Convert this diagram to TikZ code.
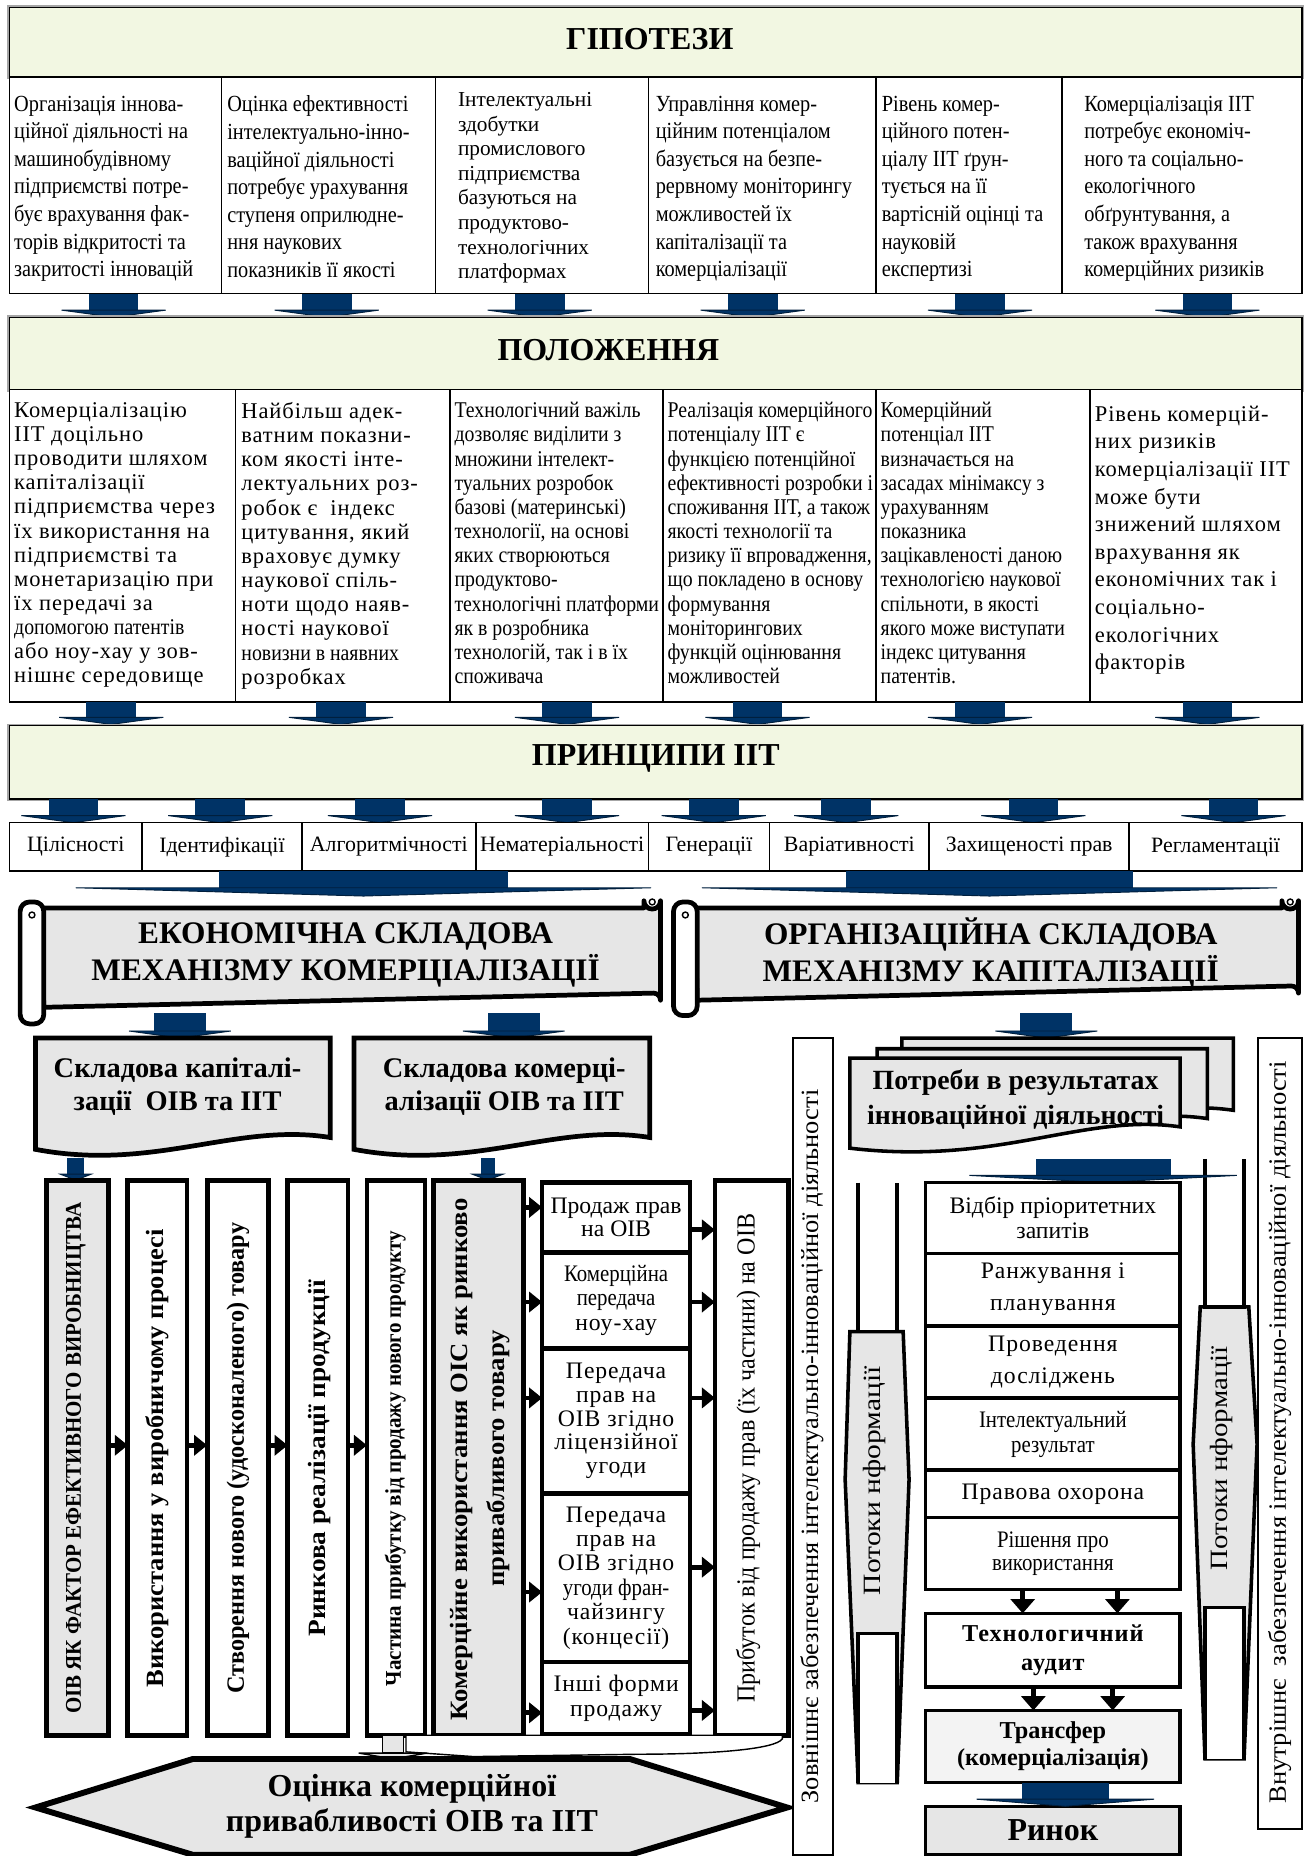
\documentclass[tikz,border=0pt]{standalone}
\usepackage{fontspec}
\usepackage{graphicx}
\setmainfont{Liberation Serif}
\newfontfamily\cnA[FakeStretch=0.88]{Liberation Serif}
\newfontfamily\cnC[FakeStretch=0.78]{Liberation Serif}
\newfontfamily\wdA[LetterSpace=4]{Liberation Serif}
\usetikzlibrary{arrows.meta}
\definecolor{hdrfill}{RGB}{242,247,226}
\definecolor{navy}{RGB}{0,51,102}
\definecolor{gfill}{RGB}{230,230,230}
\definecolor{lgfill}{RGB}{243,243,243}
\newcommand\fsz[2]{\fontsize{#1}{#2}\selectfont}
\newcommand\bx[7]{\node[#1, anchor=north west, outer sep=0pt, inner sep=0pt, minimum width={(#5)-(#3)}, minimum height={(#6)-(#4)}] (#2) at (#3,#4) {#7};}
\newcommand\barrow[6]{%
  \fill[navy] ({#1-#5},#2) rectangle ({#1+#5},#3);
  \filldraw[fill=navy, draw=navy!60!black, line width=0.8pt] ({#1-#6},#3) -- ({#1+#6},#3) -- (#1,#4) -- cycle;}
\newcommand\vtext[5]{\node[rotate=90, inner sep=0pt] (#1) at (#2,#3) {\resizebox{#4pt}{\height}{#5}};}
\begin{document}
\begin{tikzpicture}[x=1pt,y=-1pt,
  hdr/.style={draw=black, line width=1pt, fill=hdrfill, preaction={draw=gray!70, line width=3.5pt}},
  cell/.style={draw=black, line width=1.4pt, fill=white},
  pcell/.style={cell, font=\fsz{18.5}{20}},
  tbox/.style={draw=black, line width=4pt, fill=white},
  gbox/.style={draw=black, line width=4pt, fill=gfill},
  mbox/.style={draw=black, line width=3pt, fill=white, align=center},
  tallbox/.style={draw=black, line width=1.5pt, fill=white},
  txt/.style={inner sep=0pt, outer sep=0pt, align=left, anchor=north west},
  ctxt/.style={inner sep=0pt, outer sep=0pt, align=center},
  barr/.style={-{Triangle[length=11pt,width=17pt]}, line width=4pt},
  varr/.style={-{Triangle[length=12pt,width=20pt]}, line width=4pt},
]
\fill[white] (0,0) rectangle (1107,1568);
\useasboundingbox (0,0) rectangle (1107,1568);

% ---------- Row 1 ----------
\bx{hdr}{h1}{8}{6}{1100}{65}{}
\node[ctxt, font=\bfseries\fsz{27}{30}] (h1t) at (549,33) {ГІПОТЕЗИ};
\bx{cell}{c11}{8}{65}{187}{248}{}
\bx{cell}{c12}{187}{65}{368}{248}{}
\bx{cell}{c13}{368}{65}{548}{248}{}
\bx{cell}{c14}{548}{65}{740}{248}{}
\bx{cell}{c15}{740}{65}{897}{248}{}
\bx{cell}{c16}{897}{65}{1100}{248}{}
\node[txt, font=\cnA\fsz{19.5}{23.3}] (t11) at (12,81) {Організація іннова-\\ційної діяльності на\\машинобудівному\\підприємстві потре-\\бує врахування фак-\\торів відкритості та\\закритості інновацій};
\node[txt, font=\cnA\fsz{19.5}{23.3}] (t12) at (192,81) {Оцінка ефективності\\інтелектуально-інно-\\ваційної діяльності\\потребує урахування\\ступеня оприлюдне-\\ння наукових\\показників її якості};
\node[txt, font=\fsz{18}{20.8}] (t13) at (387,78) {Інтелектуальні\\здобутки\\промислового\\підприємства\\базуються на\\продуктово-\\технологічних\\платформах};
\node[txt, font=\cnA\fsz{19.5}{23.3}] (t14) at (554,81) {Управління комер-\\ційним потенціалом\\базується на безпе-\\рервному моніторингу\\можливостей їх\\капіталізації та\\комерціалізації};
\node[txt, font=\cnA\fsz{19.5}{23.3}] (t15) at (745,81) {Рівень комер-\\ційного потен-\\ціалу ІІТ ґрун-\\тується на її\\вартісній оцінці та\\науковій\\експертизі};
\node[txt, font=\cnA\fsz{19.5}{23.3}] (t16) at (916,81) {Комерціалізація ІІТ\\потребує економіч-\\ного та соціально-\\екологічного\\обґрунтування, а\\також врахування\\комерційних ризиків};
\foreach \cx in {96,276,456,636,828,1020} {\barrow{\cx}{248}{262}{268}{21}{44}}

% ---------- Row 2 ----------
\bx{hdr}{h2}{8}{268}{1100}{329}{}
\node[ctxt, font=\bfseries\fsz{27}{30}] (h2t) at (514,296) {ПОЛОЖЕННЯ};
\bx{cell}{c21}{8}{329}{199}{593}{}
\bx{cell}{c22}{199}{329}{380}{593}{}
\bx{cell}{c23}{380}{329}{560}{593}{}
\bx{cell}{c24}{560}{329}{740}{593}{}
\bx{cell}{c25}{740}{329}{921}{593}{}
\bx{cell}{c26}{921}{329}{1100}{593}{}
\node[txt, font=\wdA\fsz{19}{20.4}] (t21) at (12,340) {Комерціалізацію\\ІІТ доцільно\\проводити шляхом\\капіталізації\\підприємства через\\їх використання на\\підприємстві та\\монетаризацію при\\їх передачі за\\{\cnA допомогою патентів}\\або ноу-хау у зов-\\нішнє середовище};
\node[txt, font=\wdA\fsz{19}{20.4}] (t22) at (204,340) {Найбільш адек-\\ватним показни-\\ком якості інте-\\лектуальних роз-\\робок є\ \ індекс\\цитування, який\\враховує думку\\наукової спіль-\\ноти щодо наяв-\\ності наукової\\{\cnA новизни в наявних}\\розробках};
\node[txt, font=\cnA\fsz{19}{20.4}] (t23) at (384,340) {Технологічний важіль\\дозволяє виділити з\\множини інтелект-\\туальних розробок\\базові (материнські)\\технології, на основі\\яких створюються\\продуктово-\\технологічні платформи\\як в розробника\\технологій, так і в їх\\споживача};
\node[txt, font=\cnA\fsz{19}{20.4}] (t24) at (564,340) {Реалізація комерційного\\потенціалу ІІТ є\\функцією потенційної\\ефективності розробки і\\споживання ІІТ, а також\\якості технології та\\ризику її впровадження,\\що покладено в основу\\формування\\моніторингових\\функцій оцінювання\\можливостей};
\node[txt, font=\cnA\fsz{19}{20.4}] (t25) at (744,340) {Комерційний\\потенціал ІІТ\\визначається на\\засадах мінімаксу з\\урахуванням\\показника\\зацікавленості даною\\технологією наукової\\спільноти, в якості\\якого може виступати\\індекс цитування\\патентів.};
\node[txt, font=\wdA\fsz{19}{23.3}] (t26) at (925,343) {Рівень комерцій-\\них ризиків\\комерціалізації ІІТ\\може бути\\знижений шляхом\\врахування як\\економічних так і\\соціально-\\екологічних\\факторів};
\foreach \cx in {94,288,479,640,828,1020} {\barrow{\cx}{593}{606}{612}{21}{44}}

% ---------- Row 3 ----------
\bx{hdr}{h3}{8}{613}{1100}{675}{}
\node[ctxt, font=\bfseries\fsz{27}{30}] (h3t) at (554,641) {ПРИНЦИПИ ІІТ};
\foreach \cx in {62,186,321,479,603,715,873,1042} {\barrow{\cx}{675}{689}{695}{21}{44}}
\bx{pcell}{p1}{8}{695}{120}{736}{Цілісності}
\bx{pcell}{p2}{120}{695}{255}{736}{Ідентифікації}
\bx{pcell}{p3}{255}{695}{402}{736}{Алгоритмічності}
\bx{pcell}{p4}{402}{695}{548}{736}{Нематеріальності}
\bx{pcell}{p5}{548}{695}{650}{736}{Генерації}
\bx{pcell}{p6}{650}{695}{785}{736}{Варіативності}
\bx{pcell}{p7}{785}{695}{954}{736}{Захищеності прав}
\bx{pcell}{p8}{954}{695}{1100}{736}{Регламентації}
\barrow{307}{736}{750}{757}{122}{243}
\barrow{836}{736}{750}{757}{121}{243}

% ---------- Scrolls ----------
\filldraw[fill=gfill, line width=4pt, line join=round] (35,767) -- (544,767) -- (544,761) arc[start angle=180, end angle=360, radius=7pt] -- (558,845) arc[start angle=0, end angle=90, radius=6pt] -- (37,851) -- cycle;
\draw[line width=1.2pt] (551,762) circle (2.5pt);
\filldraw[fill=white, line width=4pt, rounded corners=8pt] (17,762) rectangle (37,865);
\draw[line width=1.2pt] (27,773) circle (2.5pt);
\node[ctxt, font=\bfseries\fsz{26.5}{31}] (s1) at (292,807) {ЕКОНОМІЧНА СКЛАДОВА\\МЕХАНІЗМУ КОМЕРЦІАЛІЗАЦІЇ};

\filldraw[fill=gfill, line width=4pt, line join=round] (587,767) -- (1083,767) -- (1083,761) arc[start angle=180, end angle=360, radius=7pt] -- (1097,839) arc[start angle=0, end angle=90, radius=6pt] -- (589,845) -- cycle;
\draw[line width=1.2pt] (1090,762) circle (2.5pt);
\filldraw[fill=white, line width=4pt, rounded corners=8pt] (569,762) rectangle (589,858);
\draw[line width=1.2pt] (579,773) circle (2.5pt);
\node[ctxt, font=\bfseries\fsz{26.5}{31}] (s2) at (837,805) {ОРГАНІЗАЦІЙНА СКЛАДОВА\\МЕХАНІЗМУ КАПІТАЛІЗАЦІЇ};

\barrow{152}{856}{871}{877}{22}{43}
\barrow{434}{856}{871}{877}{22}{43}
\barrow{884}{856}{871}{877}{22}{43}

% ---------- Documents ----------
\filldraw[fill=gfill, line width=4pt] (30,877) -- (279,877) -- (279,961) .. controls (200,948) and (130,990) .. (30,971) -- cycle;
\node[ctxt, font=\bfseries\fsz{24}{28}] (dA) at (150,918) {Складова капіталі-\\зації\ \ ОІВ та ІІТ};
\filldraw[fill=gfill, line width=4pt] (299,877) -- (549,877) -- (549,961) .. controls (470,948) and (400,990) .. (299,971) -- cycle;
\node[ctxt, font=\bfseries\fsz{24}{28}] (dB) at (426,918) {Складова комерці-\\алізації ОІВ та ІІТ};
\barrow{64}{978}{992}{997}{7}{13}
\barrow{412}{978}{992}{997}{6}{13}

% ---------- Vertical boxes ----------
\bx{gbox}{vA}{39.5}{997}{91.5}{1466}{}
\bx{tbox}{vB}{108}{997}{158}{1466}{}
\bx{tbox}{vC}{175}{997}{227}{1466}{}
\bx{tbox}{vD}{243}{997}{294}{1466}{}
\bx{tbox}{vE}{310}{997}{359}{1466}{}
\bx{gbox}{vF}{366}{997}{442}{1466}{}
\bx{tbox}{vH}{604}{997}{666}{1466}{}
\vtext{tA}{64}{1232}{432}{\bfseries\fsz{19}{20}ОІВ ЯК ФАКТОР ЕФЕКТИВНОГО ВИРОБНИЦТВА}
\vtext{tB}{133}{1232}{387}{\bfseries\fsz{21}{22}Використання у виробничому процесі}
\vtext{tC}{201}{1232}{398}{\bfseries\fsz{21}{22}Створення нового (удосконаленого) товару}
\vtext{tD}{270}{1232}{301}{\bfseries\fsz{21}{22}Ринкова реалізації продукції}
\vtext{tE}{334}{1232}{385}{\bfseries\fsz{19}{20}Частина прибутку від продажу нового продукту}
\vtext{tF1}{390}{1233}{441}{\bfseries\fsz{21}{22}Комерційне використання ОІС як ринково}
\vtext{tF2}{421}{1232}{217}{\bfseries\fsz{21}{22}привабливого товару}
\vtext{tH}{632}{1232}{413}{\fsz{22}{24}Прибуток від продажу прав (їх частини) на ОІВ}

\bx{tbox, align=center, font=\fsz{20}{19.5}}{g1}{458}{999}{583}{1058}{Продаж прав\\на ОІВ}
\bx{tbox, align=center, font=\fsz{20}{20.5}}{g2}{458}{1058}{583}{1139}{{\cnA Комерційна}\\{\cnA передача}\\{\wdA ноу-хау}}
\bx{tbox, align=center, font=\wdA\fsz{20}{20}}{g3}{458}{1139}{583}{1262}{Передача\\прав на\\ОІВ згідно\\ліцензійної\\угоди}
\bx{tbox, align=center, font=\wdA\fsz{20}{20.6}}{g4}{458}{1262}{583}{1404}{Передача\\прав на\\ОІВ згідно\\{\cnA угоди фран-}\\чайзингу\\(концесії)}
\bx{tbox, align=center, font=\wdA\fsz{20}{21}}{g5}{458}{1404}{583}{1465}{Інші форми\\продажу}

% arrows economic part
\coordinate (ya) at (0,1221);
\draw[barr] (vA.east |- ya) -- (vB.west |- ya);
\draw[barr] (vB.east |- ya) -- (vC.west |- ya);
\draw[barr] (vC.east |- ya) -- (vD.west |- ya);
\draw[barr] (vD.east |- ya) -- (vE.west |- ya);
\foreach \yy [count=\i] in {1020,1100,1181,1345,1447} {\coordinate (fg\i) at (458,\yy); \draw[barr] (vF.east |- fg\i) -- (fg\i);}
\foreach \yy [count=\i] in {1039,1100,1181,1324,1445} {\coordinate (gh\i) at (604,\yy); \draw[barr] (g1.east |- gh\i) -- (gh\i);}

% bottom connector
\filldraw[fill=white, line width=1.2pt] (343,1466) -- (661,1466) -- (661,1469) .. controls (655,1478) and (600,1482) .. (540,1482) -- (400,1484) -- (343,1480) -- cycle;
\filldraw[fill=gfill, line width=1.2pt] (323,1466) rectangle (341,1481);
\filldraw[fill=gfill, line width=1.2pt] (303,1481) -- (361,1481) -- (332,1486) -- cycle;

% Ocinka
\filldraw[fill=gfill, line width=5pt] (30,1527) -- (163,1486) -- (532,1486) -- (665,1527) -- (532,1567) -- (163,1567) -- cycle;
\node[ctxt, font=\bfseries\fsz{27}{30}] (oc) at (348,1526) {Оцінка комерційної\\привабливості ОІВ та ІІТ};

% ---------- Tall side boxes ----------
\bx{tallbox}{ext}{670}{877}{704}{1567}{}
\vtext{text}{686}{1222}{603}{\fsz{21}{22}Зовнішнє забезпечення інтелектуально-інноваційної діяльності}
\bx{tallbox}{int}{1063}{877}{1100}{1545}{}
\vtext{tint}{1081}{1210}{627}{\fsz{21}{22}Внутрішнє\ \ забезпечення інтелектуально-інноваційної діяльності}

% ---------- Potreby ----------
\filldraw[fill=gfill, line width=3pt] (762,877) -- (1042,877) -- (1042,938) .. controls (960,926) and (890,970) .. (762,956) -- cycle;
\filldraw[fill=gfill, line width=3pt] (741,886) -- (1020,886) -- (1020,945) .. controls (940,933) and (870,977) .. (741,963) -- cycle;
\filldraw[fill=gfill, line width=3pt] (718,894) -- (997,894) -- (997,952) .. controls (915,940) and (845,985) .. (718,970) -- cycle;
\node[ctxt, font=\bfseries\fsz{23.5}{30}] (pt) at (858,929) {Потреби в результатах\\інноваційної діяльності};

% ---------- Potoki ----------
\filldraw[fill=gfill, line width=3pt] (718,1125) -- (763,1125) -- (768,1250) -- (758,1506) -- (725,1506) -- (714,1250) -- cycle;
\filldraw[fill=white, draw=none] (725,999) rectangle (758,1125);
\draw[line width=3pt] (725,999) -- (725,1125) -- (758,1125) -- (758,999);
\filldraw[fill=white, draw=none] (725,1380) rectangle (758,1506);
\draw[line width=3pt] (725,1506) -- (725,1380) -- (758,1380) -- (758,1506);
\vtext{pl}{739}{1251}{193}{\fsz{21}{22}Потоки нформації}

\filldraw[fill=gfill, line width=3pt] (1014,1104) -- (1055,1104) -- (1062,1220) -- (1051,1486) -- (1018,1486) -- (1008,1220) -- cycle;
\filldraw[fill=white, draw=none] (1018,979) rectangle (1051,1104);
\draw[line width=3pt] (1018,979) -- (1018,1104) -- (1051,1104) -- (1051,979);
\filldraw[fill=white, draw=none] (1018,1358) rectangle (1051,1486);
\draw[line width=3pt] (1018,1486) -- (1018,1358) -- (1051,1358) -- (1051,1486);
\vtext{pr}{1032}{1232}{189}{\fsz{21}{22}Потоки нформації}

\barrow{932}{979}{993}{999}{57}{113}

% ---------- Right column ----------
\bx{mbox, font=\fsz{20}{21}}{R1}{782}{999}{997}{1059}{Відбір пріоритетних\\запитів}
\bx{mbox, font=\wdA\fsz{20}{27}}{R2}{782}{1059}{997}{1120}{Ранжування і\\планування}
\bx{mbox, font=\wdA\fsz{20}{27}}{R3}{782}{1120}{997}{1181}{Проведення\\досліджень}
\bx{mbox, font=\cnA\fsz{20}{21}}{R4}{782}{1181}{997}{1242}{Інтелектуальний\\результат}
\bx{mbox, font=\wdA\fsz{20}{21}}{R5}{782}{1242}{997}{1282}{Правова охорона}
\bx{mbox, font=\cnA\fsz{20}{20}}{R6}{782}{1282}{997}{1343}{Рішення про\\використання}
\bx{mbox, font=\bfseries\wdA\fsz{20.5}{24.5}}{TA}{782}{1363}{997}{1425}{Технологичний\\аудит}
\bx{mbox, fill=lgfill, font=\bfseries\fsz{20.5}{23}}{TR}{782}{1445}{997}{1506}{Трансфер\\(комерціалізація)}
\bx{mbox, fill=gfill, font=\bfseries\fsz{27}{30}}{RM}{782}{1526}{997}{1567}{Ринок}
\draw[varr] ([xshift=-25.5pt]R6.south) -- ([xshift=-25.5pt]TA.north);
\draw[varr] ([xshift=54.5pt]R6.south) -- ([xshift=54.5pt]TA.north);
\draw[varr] ([xshift=-16.5pt]TA.south) -- ([xshift=-16.5pt]TR.north);
\draw[varr] ([xshift=50.5pt]TA.south) -- ([xshift=50.5pt]TR.north);
\barrow{900}{1506}{1520}{1526}{37}{75}
\end{tikzpicture}
\end{document}
